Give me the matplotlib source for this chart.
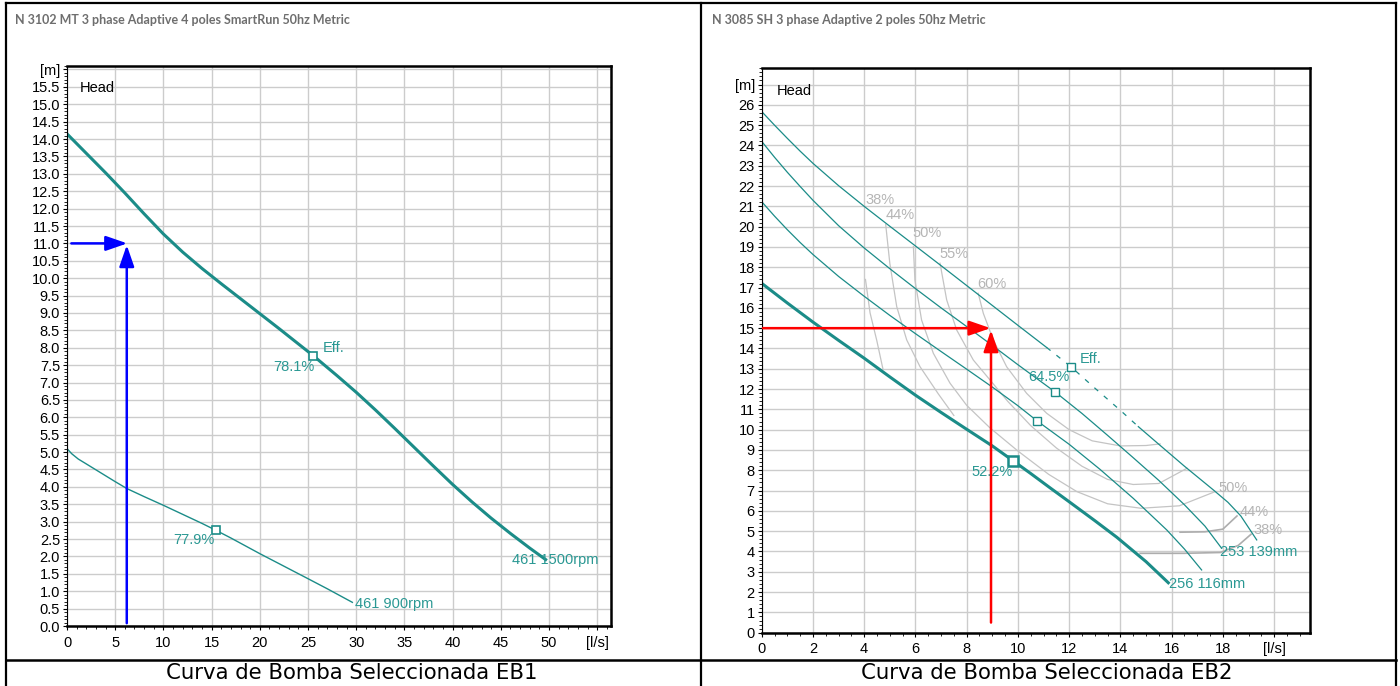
import matplotlib
matplotlib.use("Agg")
import matplotlib.pyplot as plt
from matplotlib.ticker import MultipleLocator, FixedLocator, FixedFormatter
from matplotlib.lines import Line2D
from matplotlib.patches import ArrowStyle

# ---------------- data ----------------
titles = ["N 3102 MT 3 phase Adaptive 4 poles SmartRun 50hz Metric",
          "N 3085 SH 3 phase Adaptive 2 poles 50hz Metric"]
captions = ["Curva de Bomba Seleccionada EB1", "Curva de Bomba Seleccionada EB2"]

# EB1 chart
eb1_xticks = [0, 5, 10, 15, 20, 25, 30, 35, 40, 45, 50, 55]
eb1_xlabels = ["0", "5", "10", "15", "20", "25", "30", "35", "40", "45", "50", "[l/s]"]
eb1_yticks = [0.0, 0.5, 1.0, 1.5, 2.0, 2.5, 3.0, 3.5, 4.0, 4.5, 5.0, 5.5, 6.0, 6.5, 7.0, 7.5,
              8.0, 8.5, 9.0, 9.5, 10.0, 10.5, 11.0, 11.5, 12.0, 12.5, 13.0, 13.5, 14.0, 14.5,
              15.0, 15.5, 16.0]
eb1_ylabels = ["0.0", "0.5", "1.0", "1.5", "2.0", "2.5", "3.0", "3.5", "4.0", "4.5", "5.0", "5.5",
               "6.0", "6.5", "7.0", "7.5", "8.0", "8.5", "9.0", "9.5", "10.0", "10.5", "11.0",
               "11.5", "12.0", "12.5", "13.0", "13.5", "14.0", "14.5", "15.0", "15.5", "[m]"]

eb1_q_1500 = [0, 2, 4, 6, 8, 10, 12, 14, 16, 18, 20, 22, 24, 25.55, 28, 30, 32, 34, 36, 38,
              40, 42, 44, 46, 48, 49.65]
eb1_h_1500 = [14.15, 13.59, 13.03, 12.45, 11.85, 11.27, 10.75, 10.28, 9.84, 9.41, 8.98, 8.55,
              8.11, 7.77, 7.2, 6.72, 6.21, 5.68, 5.14, 4.6, 4.07, 3.57, 3.1, 2.66, 2.24, 1.91]
eb1_q_900 = [0, 0.5, 1.17, 2, 3, 4, 5, 6.22, 8, 10, 12, 14, 15.46, 17, 20, 22.5, 25, 27, 29.6]
eb1_h_900 = [5.1, 4.95, 4.8, 4.66, 4.49, 4.32, 4.15, 3.95, 3.72, 3.47, 3.21, 2.95, 2.75, 2.53,
             2.08, 1.72, 1.36, 1.07, 0.68]
eb1_eff_pts = [(25.55, 7.77), (15.46, 2.75)]
eb1_eff_labels = ["78.1%", "77.9%"]
eb1_curve_labels = ["461 1500rpm", "461 900rpm"]
eb1_op = (6.25, 11.0)

# EB2 chart
eb2_xticks = [0, 2, 4, 6, 8, 10, 12, 14, 16, 18, 20]
eb2_xlabels = ["0", "2", "4", "6", "8", "10", "12", "14", "16", "18", "[l/s]"]
eb2_yticks = [0, 1, 2, 3, 4, 5, 6, 7, 8, 9, 10, 11, 12, 13, 14, 15, 16, 17, 18, 19, 20, 21,
              22, 23, 24, 25, 26, 27]
eb2_ylabels = ["0", "1", "2", "3", "4", "5", "6", "7", "8", "9", "10", "11", "12", "13", "14",
               "15", "16", "17", "18", "19", "20", "21", "22", "23", "24", "25", "26", "[m]"]

eb2_q_139a = [0, 0.5, 1, 1.5, 2, 3, 4, 5, 6, 7, 8, 9, 10, 11.12]
eb2_h_139a = [25.67, 25.0, 24.35, 23.72, 23.12, 22.02, 21.0, 20.02, 19.05, 18.08, 17.1, 16.12,
              15.14, 14.05]
eb2_q_139b = [11.12, 12.07, 13.0, 14.0, 14.7]
eb2_h_139b = [14.05, 13.1, 12.05, 10.95, 10.15]
eb2_q_139c = [14.7, 15.5, 16.5, 17.63, 18.2, 18.7, 19.32]
eb2_h_139c = [10.15, 9.28, 8.2, 7.03, 6.42, 5.75, 4.57]
eb2_q_2 = [0, 0.5, 1, 1.5, 2, 3, 4, 5, 6, 7, 8, 9, 10, 11.45, 12.5, 13.5, 14.5, 15.5, 16.5,
           17.3, 17.95]
eb2_h_2 = [24.2, 23.42, 22.68, 21.98, 21.3, 20.05, 18.95, 17.93, 16.95, 16.0, 15.08, 14.15,
           13.2, 11.86, 10.8, 9.72, 8.62, 7.5, 6.3, 5.25, 4.16]
eb2_q_3 = [0, 0.5, 1, 1.5, 2, 3, 4, 5, 6, 7, 8, 9, 10, 10.73, 12, 13.2, 14.5, 15.81, 16.5,
           17.17]
eb2_h_3 = [21.23, 20.52, 19.85, 19.22, 18.63, 17.55, 16.57, 15.63, 14.73, 13.85, 12.98, 12.1,
           11.18, 10.45, 9.28, 8.05, 6.62, 5.06, 4.12, 3.09]
eb2_q_116 = [0, 1, 2, 3, 4, 5, 6, 7, 8, 9, 9.82, 10.5, 11.25, 12, 13, 13.86, 15, 15.87]
eb2_h_116 = [17.21, 16.24, 15.3, 14.4, 13.52, 12.6, 11.7, 10.85, 10.02, 9.2, 8.46, 7.84, 7.14,
             6.45, 5.52, 4.7, 3.5, 2.46]
eb2_markers = [(12.07, 13.1), (11.45, 11.86), (10.73, 10.45), (9.82, 8.46)]

# iso-efficiency lines
iso_60_q = [8.45, 8.65, 9.04, 9.56, 10.34, 11.12, 12.0, 12.9, 14.0, 15.0, 15.55]
iso_60_h = [16.72, 15.73, 14.42, 13.1, 11.79, 10.81, 10.0, 9.45, 9.2, 9.22, 9.3]
iso_55_q = [6.96, 7.22, 7.61, 8.26, 8.91, 9.6, 10.5, 11.5, 12.5, 13.5, 14.5, 15.5, 16.6]
iso_55_h = [18.2, 16.39, 14.91, 13.43, 12.45, 11.4, 10.2, 9.1, 8.2, 7.55, 7.3, 7.35, 8.1]
iso_50_q = [5.92, 5.98, 6.24, 6.7, 7.35, 8.0, 8.9, 10.0, 11.2, 12.3, 13.5, 14.8, 16.3, 17.7]
iso_50_h = [19.02, 17.37, 15.4, 13.76, 12.29, 11.2, 10.1, 8.95, 7.8, 6.95, 6.35, 6.13, 6.25,
            6.95]
iso_44_q = [4.84, 5.0, 5.27, 5.66, 6.18, 6.9, 7.5]
iso_44_h = [20.1, 18.2, 16.06, 14.42, 13.1, 11.75, 10.7]
iso_44r_q = [16.33, 17.3, 18.0, 18.55]
iso_44r_h = [4.95, 4.97, 5.1, 5.75]
iso_38_q = [4.05, 4.23, 4.49, 4.73]
iso_38_h = [17.4, 15.75, 14.4, 13.0]
iso_38r_q = [14.77, 16.5, 17.9, 18.6, 19.1]
iso_38r_h = [3.91, 3.91, 3.95, 4.3, 4.85]
iso_top_labels = [("38%", 4.05, 21.3), ("44%", 4.84, 20.58), ("50%", 5.88, 19.67),
                  ("55%", 6.92, 18.65), ("60%", 8.42, 17.18)]
iso_right_labels = [("50%", 17.82, 7.11), ("44%", 18.67, 5.96), ("38%", 19.19, 5.06)]
eb2_op = (8.93, 15.0)

# ---------------- style ----------------
TEAL = "#1b8c88"
TEAL_TXT = "#2a9893"
GRAY = "#c4c4c4"
GRAY2 = "#adadad"
GRAY_TXT = "#b5b5b5"
GRID = "#cccccc"
FONT = ["Liberation Sans", "DejaVu Sans"]
FS = 10.5

fig = plt.figure(figsize=(14, 6.86), dpi=100)
fig.patch.set_facecolor("white")


def style_axes(ax, xticks, xlabels, yticks, ylabels, xlim, ylim, xminor, yminor):
    ax.set_xlim(*xlim)
    ax.set_ylim(*ylim)
    ax.xaxis.set_major_locator(FixedLocator(xticks))
    ax.xaxis.set_major_formatter(FixedFormatter(xlabels))
    ax.yaxis.set_major_locator(FixedLocator(yticks))
    ax.yaxis.set_major_formatter(FixedFormatter(ylabels))
    ax.xaxis.set_minor_locator(MultipleLocator(xminor))
    ax.yaxis.set_minor_locator(MultipleLocator(yminor))
    ax.grid(True, which="major", color=GRID, lw=1.0)
    ax.set_axisbelow(True)
    for s in ["top", "right", "bottom"]:
        ax.spines[s].set_linewidth(1.8)
        ax.spines[s].set_color("black")
    ax.spines["left"].set_linewidth(0.8)
    ax.tick_params(which="major", direction="out", length=3, width=0.8,
                   labelsize=FS, pad=2, colors="black")
    ax.tick_params(which="minor", direction="out", length=2, width=0.6)
    for lab in ax.get_xticklabels() + ax.get_yticklabels():
        lab.set_family(FONT)
    ax.tick_params(axis="x", pad=4)


arrow_style = ArrowStyle("-|>", head_length=1.3, head_width=0.45)

# ---------------- EB1 ----------------
ax1 = fig.add_axes([67 / 1400, 1 - 626 / 686, 544 / 1400, 560 / 686])
style_axes(ax1, eb1_xticks, eb1_xlabels, eb1_yticks, eb1_ylabels,
           (0, 56.43), (0, 16.1), 1, 0.1)
ax1.plot(eb1_q_1500, eb1_h_1500, color=TEAL, lw=2.2, solid_joinstyle="round")
ax1.plot(eb1_q_900, eb1_h_900, color=TEAL, lw=1.0)
for (q, h) in eb1_eff_pts:
    ax1.plot([q], [h], marker="s", ms=6, mfc="white", mec=TEAL, mew=1.2, color=TEAL)
ax1.text(1.35, 15.48, "Head", fontsize=FS, family=FONT, va="center", ha="left")
ax1.text(26.5, 7.98, "Eff.", fontsize=FS, family=FONT, color=TEAL_TXT, va="center")
ax1.text(23.5, 7.45, eb1_eff_labels[0], fontsize=FS, family=FONT, color=TEAL_TXT,
         va="center", ha="center")
ax1.text(13.2, 2.46, eb1_eff_labels[1], fontsize=FS, family=FONT, color=TEAL_TXT,
         va="center", ha="center")
ax1.text(46.2, 1.91, eb1_curve_labels[0], fontsize=FS, family=FONT, color=TEAL_TXT,
         va="center", ha="left")
ax1.text(29.9, 0.64, eb1_curve_labels[1], fontsize=FS, family=FONT, color=TEAL_TXT,
         va="center", ha="left")
ax1.annotate("", xy=eb1_op, xytext=(0.45, eb1_op[1]),
             arrowprops=dict(arrowstyle=arrow_style, color="#0000ff", lw=1.8,
                             shrinkA=0, shrinkB=0, mutation_scale=10))
ax1.annotate("", xy=(eb1_op[0] - 0.05, eb1_op[1] - 0.05), xytext=(eb1_op[0] - 0.05, 0.08),
             arrowprops=dict(arrowstyle=arrow_style, color="#0000ff", lw=1.8,
                             shrinkA=0, shrinkB=0, mutation_scale=10))

# ---------------- EB2 ----------------
ax2 = fig.add_axes([761.7 / 1400, 1 - 632.7 / 686, 548.3 / 1400, 564.4 / 686])
style_axes(ax2, eb2_xticks, eb2_xlabels, eb2_yticks, eb2_ylabels,
           (0, 21.4), (0, 27.8), 0.5, 0.2)
for qs, hs in [(iso_60_q, iso_60_h), (iso_55_q, iso_55_h), (iso_50_q, iso_50_h),
               (iso_44_q, iso_44_h), (iso_38_q, iso_38_h)]:
    ax2.plot(qs, hs, color=GRAY, lw=0.9)
for qs, hs in [(iso_44r_q, iso_44r_h), (iso_38r_q, iso_38r_h)]:
    ax2.plot(qs, hs, color=GRAY2, lw=1.2)
for lab, q, h in iso_top_labels + iso_right_labels:
    ax2.text(q, h, lab, fontsize=FS, family=FONT, color=GRAY_TXT, va="center", ha="left")

ax2.plot(eb2_q_139a, eb2_h_139a, color=TEAL, lw=0.9)
ax2.plot(eb2_q_139b, eb2_h_139b, color=TEAL, lw=0.9, ls=(0, (4, 6)))
ax2.plot(eb2_q_139c, eb2_h_139c, color=TEAL, lw=0.9)
ax2.plot(eb2_q_2, eb2_h_2, color=TEAL, lw=0.9)
ax2.plot(eb2_q_3, eb2_h_3, color=TEAL, lw=0.9)
ax2.plot(eb2_q_116, eb2_h_116, color=TEAL, lw=2.2, solid_joinstyle="round")
for i, (q, h) in enumerate(eb2_markers):
    ax2.plot([q], [h], marker="s", ms=6 if i < 3 else 6.5, mfc="white", mec=TEAL,
             mew=1.0 if i < 3 else 1.8)
ax2.text(0.57, 26.7, "Head", fontsize=FS, family=FONT, va="center", ha="left")
ax2.text(12.4, 13.47, "Eff.", fontsize=FS, family=FONT, color=TEAL_TXT, va="center")
ax2.text(11.2, 12.59, "64.5%", fontsize=FS, family=FONT, color=TEAL_TXT, va="center", ha="center")
ax2.text(8.99, 7.93, "52.2%", fontsize=FS, family=FONT, color=TEAL_TXT, va="center", ha="center")
ax2.text(17.89, 3.96, "253 139mm", fontsize=FS, family=FONT, color=TEAL_TXT, va="center")
ax2.text(15.91, 2.38, "256 116mm", fontsize=FS, family=FONT, color=TEAL_TXT, va="center")
ax2.annotate("", xy=eb2_op, xytext=(0.05, eb2_op[1]),
             arrowprops=dict(arrowstyle=arrow_style, color="#ff0000", lw=1.8,
                             shrinkA=0, shrinkB=0, mutation_scale=10))
ax2.annotate("", xy=(eb2_op[0] + 0.02, eb2_op[1] - 0.1), xytext=(eb2_op[0] + 0.02, 0.5),
             arrowprops=dict(arrowstyle=arrow_style, color="#ff0000", lw=1.8,
                             shrinkA=0, shrinkB=0, mutation_scale=10))

# ---------------- titles, captions, table ----------------
fig.text(15 / 1400, 1 - 20 / 686, titles[0], fontsize=9.0, family=["Lato", "DejaVu Sans"],
         weight="bold", color="#6e6e6e", va="center", ha="left")
fig.text(712 / 1400, 1 - 20 / 686, titles[1], fontsize=9.0, family=["Lato", "DejaVu Sans"],
         weight="bold", color="#6e6e6e", va="center", ha="left")
fig.text(352 / 1400, 1 - 673 / 686, captions[0], fontsize=15.3, family="DejaVu Sans",
         va="center", ha="center")
fig.text(1047 / 1400, 1 - 673 / 686, captions[1], fontsize=15.3, family="DejaVu Sans",
         va="center", ha="center")


def fline(x0, y0, x1, y1, lw=1.6):
    fig.add_artist(Line2D([x0 / 1400, x1 / 1400], [1 - y0 / 686, 1 - y1 / 686],
                          transform=fig.transFigure, color="black", lw=lw))


fline(6, 3, 1396, 3)
fline(6, 3, 6, 686)
fline(1396, 3, 1396, 686)
fline(701, 3, 701, 686)
fline(6, 660, 1396, 660, lw=1.8)

fig.savefig("out.png", dpi=100, facecolor="white")
